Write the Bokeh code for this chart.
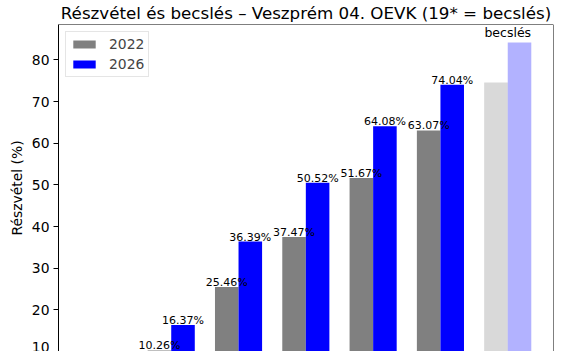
import numpy as np
from bokeh.plotting import figure
from bokeh.models import (ColumnDataSource, Range1d, Legend, LegendItem, Title, Span,
                          SingleIntervalTicker)
from bokeh.core.properties import value
from bokeh.embed import file_html
from bokeh.resources import INLINE

# ---- data ----
categories = ["9:00", "11:00", "13:00", "15:00", "17:00", "19*"]
turnout_2022 = [10.26, 25.46, 37.47, 51.67, 63.07, 74.6]
turnout_2026 = [16.37, 36.39, 50.52, 64.08, 74.04, 84.2]
is_estimate = [False, False, False, False, False, True]
series_names = ["2022", "2026"]
estimate_label = "becslés"
title_text = "Részvétel és becslés – Veszprém 04. OEVK (19* = becslés)"
y_label = "Részvétel (%)"

FONT = "DejaVu Sans"
GRAY = "#808080"
BLUE = "#0000ff"
W = 0.35
X_START, X_END = -0.675, 6.68
Y_START, Y_END = 10.0, 88.5

x = np.arange(1, len(categories) + 1)
real = [i for i, e in enumerate(is_estimate) if not e]
est = [i for i, e in enumerate(is_estimate) if e]

def src(idx, vals, shift, with_labels=True):
    return ColumnDataSource(dict(
        x=[float(x[i]) + shift for i in idx],
        top=[vals[i] for i in idx],
        label=[f"{vals[i]:.2f}%" for i in idx] if with_labels else ["" for i in idx],
    ))

s22 = src(real, turnout_2022, -W / 2)
s26 = src(real, turnout_2026, W / 2)
e22 = src(est, turnout_2022, -W / 2, False)
e26 = src(est, turnout_2026, W / 2, False)
elab = ColumnDataSource(dict(x=[float(x[i]) for i in est],
                             y=[max(turnout_2022[i], turnout_2026[i]) for i in est],
                             text=[estimate_label for i in est]))

p = figure(width=562, height=351, output_backend="svg", toolbar_location=None,
           x_range=Range1d(X_START, X_END), y_range=Range1d(Y_START, Y_END),
           x_axis_location=None, min_border_left=58, min_border_right=9,
           min_border_bottom=0, min_border_top=24)

p.outline_line_color = None
p.grid.visible = False
p.background_fill_color = "white"
p.border_fill_color = "white"

r22 = p.vbar(x="x", top="top", bottom=0, width=W, source=s22, fill_color=GRAY, line_color=None)
r26 = p.vbar(x="x", top="top", bottom=0, width=W, source=s26, fill_color=BLUE, line_color=None)
p.vbar(x="x", top="top", bottom=0, width=W, source=e22, fill_color=GRAY, fill_alpha=0.3, line_color=None)
p.vbar(x="x", top="top", bottom=0, width=W, source=e26, fill_color=BLUE, fill_alpha=0.3, line_color=None)

for s in (s22, s26):
    p.text(x="x", y="top", text="label", source=s, text_font=value(FONT),
           text_font_size="11px", text_align="center", text_baseline="bottom",
           text_color="black", y_offset=2)
p.text(x="x", y="y", text="text", source=elab, text_font=value(FONT),
       text_font_size="12.5px", text_align="center", text_baseline="bottom",
       text_color="black", y_offset=-2)

# y axis
ya = p.yaxis[0]
ya.ticker = SingleIntervalTicker(interval=10)
ya.minor_tick_line_color = None
ya.major_tick_out = 5
ya.major_tick_in = 0
ya.major_label_standoff = 4
ya.major_label_text_font = FONT
ya.major_label_text_font_size = "13.9px"
ya.major_label_text_color = "black"
ya.axis_line_color = "black"
ya.major_tick_line_color = "black"

# frame lines on top and right (bottom is cut off in the reference)
p.add_layout(Span(location=Y_END, dimension="width", line_color="black", line_width=1))
p.add_layout(Span(location=X_END, dimension="height", line_color="black", line_width=1))

# y label (as a left title, shifted to the centre of the full axes)
ylab = Title(text=y_label, align="center", offset=-22, standoff=8)
ylab.text_font = FONT
ylab.text_font_size = "13.9px"
ylab.text_font_style = "normal"
ylab.text_color = "black"
p.add_layout(ylab, "left")

# title
p.title.text = title_text
p.title.align = "center"
p.title.vertical_align = "top"
p.title.text_font = FONT
p.title.text_font_size = "16.7px"
p.title.text_font_style = "normal"
p.title.text_color = "black"
p.title.standoff = 0

legend = Legend(items=[LegendItem(label=series_names[0], renderers=[r22]),
                       LegendItem(label=series_names[1], renderers=[r26])],
                location="top_left", margin=7, padding=4, spacing=4,
                glyph_width=28, glyph_height=10, label_height=14, label_standoff=11,
                label_text_font=FONT, label_text_font_size="13.9px",
                border_line_color="#cccccc", border_line_width=1,
                background_fill_alpha=0.8)
p.add_layout(legend)

open("out.html", "w").write(file_html(p, INLINE))
